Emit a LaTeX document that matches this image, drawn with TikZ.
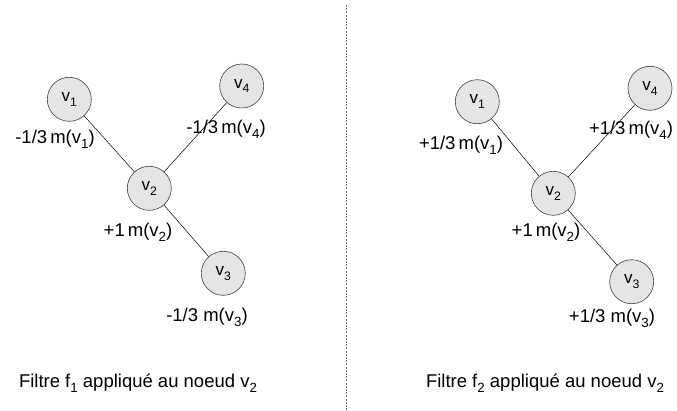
\documentclass[tikz,border=0pt]{standalone}
\usepackage{fontspec}
\setmainfont{Liberation Sans}
\newcommand{\lowsub}[1]{\raisebox{-0.28em}{\scalebox{0.72}{#1}}}
\begin{document}
\begin{tikzpicture}[x=1pt,y=-1pt,
  vnode/.style={circle,draw=black!75,fill=black!10,line width=0.6pt,minimum size=44pt,inner sep=0pt,font=\fontsize{17}{19}\selectfont},
  wlabel/.style={inner sep=0pt,font=\fontsize{18.5}{20}\selectfont},
  caption/.style={inner sep=0pt,font=\fontsize{18.5}{20}\selectfont},
  edge/.style={draw=black,line width=0.5pt},
  sep/.style={draw=black!55,line width=1.2pt,dash pattern=on 2pt off 1.2pt}]
\useasboundingbox (0,0) rectangle (677,410);
% left
\node[vnode] (a1) at (69.3,99.3) {v\lowsub{1}};
\node[vnode] (a4) at (241.7,86) {v\lowsub{4}};
\node[vnode] (a2) at (149.3,188.3) {v\lowsub{2}};
\node[vnode] (a3) at (223.3,273.3) {v\lowsub{3}};
\draw[edge] (a1) -- (a2);
\draw[edge] (a4) -- (a2);
\draw[edge] (a2) -- (a3);
\node[wlabel] (la1) at (55,139) {-1/3\,m(v\lowsub{1})};
\node[wlabel] (la4) at (226,129) {-1/3\,m(v\lowsub{4})};
\node[wlabel] (la2) at (138,232) {+1\,m(v\lowsub{2})};
\node[wlabel] (la3) at (207,317) {-1/3 m(v\lowsub{3})};
% right
\node[vnode] (b1) at (477.3,101.7) {v\lowsub{1}};
\node[vnode] (b4) at (650,88.3) {v\lowsub{4}};
\node[vnode] (b2) at (553.3,193.3) {v\lowsub{2}};
\node[vnode] (b3) at (631.7,281.7) {v\lowsub{3}};
\draw[edge] (b1) -- (b2);
\draw[edge] (b4) -- (b2);
\draw[edge] (b2) -- (b3);
\node[wlabel] (lb1) at (461,145) {+1/3\,m(v\lowsub{1})};
\node[wlabel] (lb4) at (631,130) {+1/3\,m(v\lowsub{4})};
\node[wlabel] (lb2) at (546,232) {+1\,m(v\lowsub{2})};
\node[wlabel] (lb3) at (612,318) {+1/3 m(v\lowsub{3})};
% separator
\coordinate (s1) at (346.5,5);
\coordinate (s2) at (346.5,410);
\draw[sep] (s1) -- (s2);
% captions
\node[caption] (c1) at (138,383) {Filtre f\lowsub{1} appliqué au noeud v\lowsub{2}};
\node[caption] (c2) at (545,383) {Filtre f\lowsub{2} appliqué au noeud v\lowsub{2}};
\end{tikzpicture}
\end{document}
